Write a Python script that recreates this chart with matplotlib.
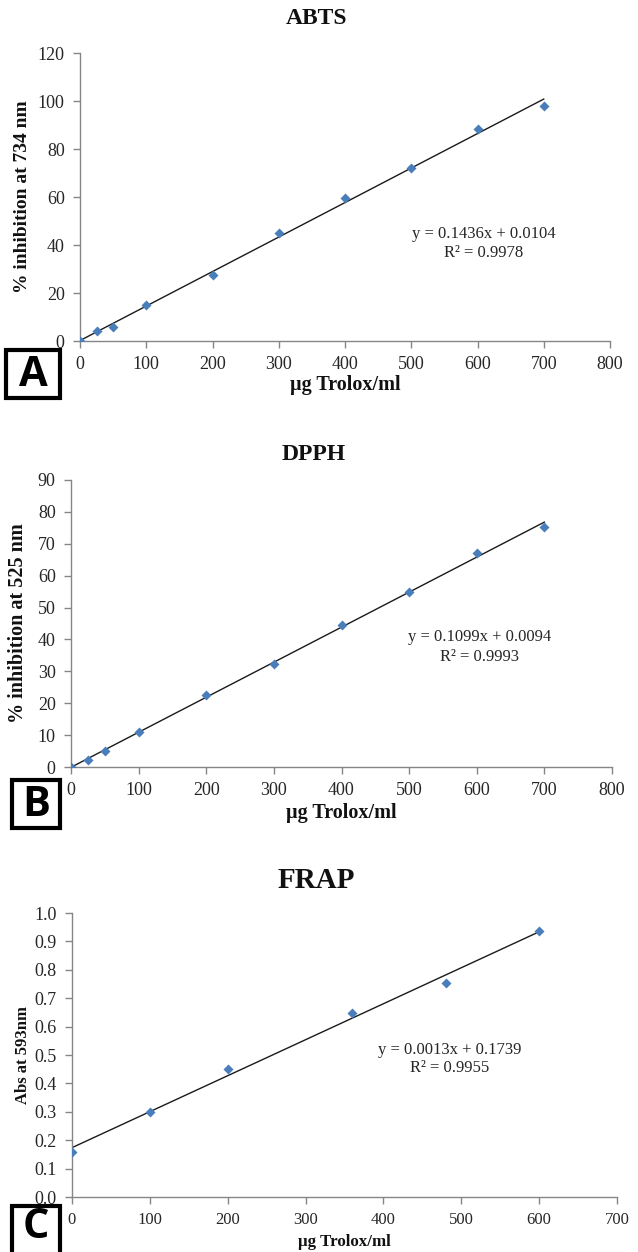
import matplotlib
matplotlib.use("Agg")
import matplotlib.pyplot as plt
from matplotlib.patches import Rectangle
import numpy as np

# ---------------- data ----------------
abts_x = [0, 25, 50, 100, 200, 300, 400, 500, 600, 700]
abts_y = [0, 4, 6, 15, 27.3, 45, 59.5, 72, 88.5, 97.8]
abts_eq = "y = 0.1436x + 0.0104"
abts_r2 = "R² = 0.9978"

dpph_x = [0, 25, 50, 100, 200, 300, 400, 500, 600, 700]
dpph_y = [0, 2.2, 5, 11, 22.6, 32.2, 44.5, 55, 67, 75.4]
dpph_eq = "y = 0.1099x + 0.0094"
dpph_r2 = "R² = 0.9993"

frap_x = [0, 100, 200, 360, 480, 600]
frap_y = [0.157, 0.30, 0.45, 0.648, 0.755, 0.937]
frap_eq = "y = 0.0013x + 0.1739"
frap_r2 = "R² = 0.9955"

W, H = 638, 1252
fig = plt.figure(figsize=(W / 100, H / 100), dpi=100)
fig.patch.set_facecolor("white")

SERIF = ["Liberation Serif", "DejaVu Serif"]
MARK = "#4A7EBB"
SPINE = "#868686"
TXT = "#262626"


def px_axes(left, right, top, bottom):
    return fig.add_axes([left / W, 1 - bottom / H, (right - left) / W, (bottom - top) / H])


def panel(ax, xs, ys, eq, r2, xmax, xstep, ymax, ystep, yfmt, ylabel, ylabel_size,
          title, title_y, title_size, eq_xy, eq2_xy, xlabel_y, xlabel_size, ylabel_x,
          letter, box, letter_y, yrange_px, tick_size):
    slope, icpt = np.polyfit(xs, ys, 1)
    fx = np.array([min(xs), max(xs)], dtype=float)
    ax.plot(fx, slope * fx + icpt, color="#1a1a1a", lw=1.0, zorder=2)
    ax.scatter(xs, ys, marker="D", s=26, color=MARK, zorder=3, linewidths=0)
    ax.set_xlim(0, xmax)
    ax.set_ylim(0, ymax)
    ax.set_xticks(np.arange(0, xmax + xstep / 2, xstep))
    yt = np.arange(0, ymax + ystep / 2, ystep)
    ax.set_yticks(yt)
    ax.set_yticklabels([yfmt.format(v) for v in yt])
    for s in ["top", "right"]:
        ax.spines[s].set_visible(False)
    for s in ["left", "bottom"]:
        ax.spines[s].set_color(SPINE)
        ax.spines[s].set_linewidth(1.0)
    ax.tick_params(axis="both", direction="out", length=5, width=1, color=SPINE,
                   labelsize=tick_size, labelcolor=TXT, pad=6)
    for lab in ax.get_xticklabels() + ax.get_yticklabels():
        lab.set_family(SERIF)
    ax.text(eq_xy[0], eq_xy[1], eq, ha="center", va="center", fontsize=12,
            family=SERIF, color=TXT)
    ax.text(eq2_xy[0], eq2_xy[1], r2, ha="center", va="center", fontsize=12,
            family=SERIF, color=TXT)
    bb = ax.get_position()
    xc = (bb.x0 + bb.x1) / 2
    fig.text(xc - 0.044, 1 - title_y / H, title, ha="center", va="center",
             fontsize=title_size, fontweight="bold", family=SERIF, color="#111111")
    fig.text(xc, 1 - xlabel_y / H, "µg Trolox/ml", ha="center", va="center",
             fontsize=xlabel_size, fontweight="bold", family=SERIF, color="#111111")
    yc = 1 - (yrange_px[0] + yrange_px[1]) / 2 / H
    fig.text(ylabel_x / W, yc, ylabel, rotation=90, ha="center", va="center",
             fontsize=ylabel_size, fontweight="bold", family=SERIF, color="#111111")
    bx0, bx1, by0, by1 = box
    fig.patches.append(Rectangle((bx0 / W, 1 - by1 / H), (bx1 - bx0) / W, (by1 - by0) / H,
                                 transform=fig.transFigure, facecolor="white",
                                 edgecolor="black", linewidth=3, zorder=5))
    fig.text((bx0 + bx1) / 2 / W, 1 - letter_y / H, letter, ha="center",
             va="center", fontsize=30, fontweight="bold",
             family=["Open Sans", "DejaVu Sans"], color="black", zorder=6)


axA = px_axes(80, 610, 53, 341)
panel(axA, abts_x, abts_y, abts_eq, abts_r2, 800, 100, 120, 20, "{:.0f}",
      "% inhibition at 734 nm", 14, "ABTS", 18, 17,
      (610, 44.5), (610, 36.5), 385, 14.5, 23, "A", (6, 60, 350, 398), 375,
      (53, 341), 13)

axB = px_axes(71, 612, 480, 767)
panel(axB, dpph_x, dpph_y, dpph_eq, dpph_r2, 800, 100, 90, 10, "{:.0f}",
      "% inhibition at 525 nm", 14.5, "DPPH", 455, 17,
      (604, 40.8), (604, 34.5), 813, 14.5, 18, "B", (12, 60, 780, 828), 805,
      (480, 767), 13)

axC = px_axes(72, 617, 913, 1197)
panel(axC, frap_x, frap_y, frap_eq, frap_r2, 700, 100, 1.0, 0.1, "{:.1f}",
      "Abs at 593nm", 12, "FRAP", 880, 21,
      (485, 0.518), (485, 0.454), 1242, 12.2, 23, "C", (12, 60, 1206, 1262), 1228,
      (913, 1197), 13)
axC.tick_params(axis="x", labelsize=12)

fig.savefig("out.png", dpi=100, facecolor="white")
